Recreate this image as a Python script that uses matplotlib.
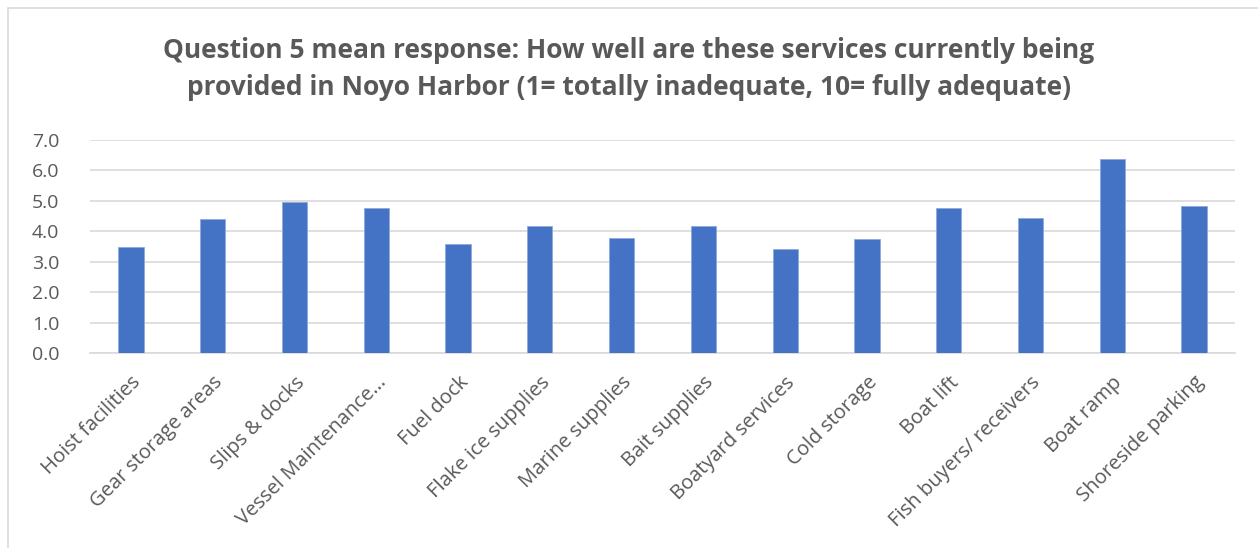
import numpy as np
import matplotlib
matplotlib.use('Agg')
from matplotlib import pyplot as plt
from matplotlib.patches import Rectangle

# data
services = ['Hoist facilities', 'Gear storage areas', 'Slips & docks', 'Vessel Maintenance...',
            'Fuel dock', 'Flake ice supplies', 'Marine supplies', 'Bait supplies',
            'Boatyard services', 'Cold storage', 'Boat lift', 'Fish buyers/ receivers',
            'Boat ramp', 'Shoreside parking']
mean_resp = [3.5, 4.39, 4.97, 4.78, 3.59, 4.18, 3.77, 4.17, 3.43, 3.74, 4.78, 4.43, 6.39, 4.84]
yticks = [0, 1, 2, 3, 4, 5, 6, 7]

W, H = 1258, 548
fig = plt.figure(figsize=(W / 100, H / 100), dpi=100)
plt.rcParams['font.family'] = ['Open Sans', 'DejaVu Sans']

# outer chart border (right/bottom fall off the picture)
fig.patches.append(Rectangle((8 / W, -0.1), 1.2, 1 - 8 / H + 0.1, transform=fig.transFigure,
                             fill=False, edgecolor='#d9d9d9', lw=1.2))

ax = fig.add_axes([90 / W, 1 - 353 / H, (1235 - 90) / W, (353 - 140) / H])
x = np.arange(len(services))
ax.bar(x, mean_resp, width=0.31, color='#4472c4', edgecolor='#8faadc', lw=0.6, zorder=3)
ax.set_xlim(-0.5, len(services) - 0.5)
ax.set_ylim(0, 7)
ax.set_yticks(yticks)
ax.set_yticklabels(['%.1f' % v for v in yticks], color='#595959', fontsize=14)
ax.yaxis.grid(True, color='#d9d9d9', lw=1.2, zorder=0)
ax.set_xticks(x)
ax.set_xticklabels(services, rotation=45, ha='right', va='top', rotation_mode='anchor',
                   color='#595959', fontsize=14.5)
ax.tick_params(axis='y', length=0, pad=22)
ax.tick_params(axis='x', length=0, pad=14)
for s in ['top', 'right', 'left']:
    ax.spines[s].set_visible(False)
ax.spines['bottom'].set_color('#d9d9d9')
ax.spines['bottom'].set_linewidth(1.2)

fig.text(0.5, 1 - 69 / H, 'Question 5 mean response: How well are these services currently being\n'
         'provided in Noyo Harbor (1= totally inadequate, 10= fully adequate)',
         ha='center', va='center', fontsize=19, fontweight='bold', color='#595959',
         linespacing=1.45)

fig.savefig('out.png', dpi=100)
